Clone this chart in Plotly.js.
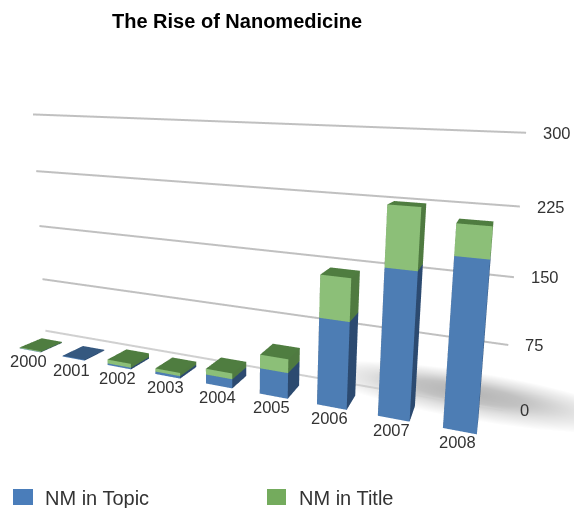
<!DOCTYPE html>
<html><head><meta charset="utf-8"><script src="https://cdn.plot.ly/plotly-3.0.1.min.js"></script>
<style>html,body{margin:0;padding:0;background:#fff}#c{width:574px;height:508px}</style></head><body><div id="c"></div>
<script>
const years=['2000','2001','2002','2003','2004','2005','2006','2007','2008'];
const topic=[0.5,1,2,3,11,30,98,160,179];
const title=[1,0,5,4,7,16,47,64,32];
const ticks=[0,75,150,225,300];
const seriesNames=['NM in Topic','NM in Title'];
const gridY=0.25, front=0.037, depth=0.12, halfW=0.248, gridL=-0.553, gridR=8.613, lean=-0.13/300;
const FONT='Liberation Sans, Arial, sans-serif';
function box(i,z0,z1,c){
  const x0=i-halfW,x1=i+halfW,y0=front,y1=front+depth,a=lean*z0,b=lean*z1;
  const fc=[c.side,c.side,c.top,c.top,c.front,c.front,c.side,c.side,c.side,c.side,c.side,c.side];
  return {type:'mesh3d',x:[x0+a,x1+a,x1+a,x0+a,x0+b,x1+b,x1+b,x0+b],y:[y0,y0,y1,y1,y0,y0,y1,y1],z:[z0,z0,z0,z0,z1,z1,z1,z1],
    i:[0,0,4,4,0,0,1,1,2,2,3,3],j:[1,2,5,6,1,5,2,6,3,7,0,4],k:[2,3,6,7,5,4,6,5,7,6,4,7],facecolor:fc,flatshading:true,
    lighting:{ambient:1,diffuse:0,specular:0,fresnel:0,roughness:1},showscale:false,hoverinfo:'skip'};
}
const blue={front:'#4d7db4',side:'#2c4a70',top:'#35587f'};
const green={front:'#8cbf78',side:'#4f7a40',top:'#4f7d40'};
function shadow(){
  const cx=8.0,cy=0.36,rx=2.7,ry=0.22,rings=[[0,'#b4b4b4'],[0.35,'#c2c2c2'],[0.65,'#e2e2e2'],[1,'#ffffff']],n=28;
  const x=[],y=[],z=[],vc=[],I=[],J=[],K=[];
  rings.forEach(([r,col])=>{for(let s=0;s<n;s++){const t=2*Math.PI*s/n;x.push(cx+rx*r*Math.cos(t));y.push(cy+ry*r*Math.sin(t));z.push(-2);vc.push(col);}});
  for(let r=0;r<rings.length-1;r++)for(let s=0;s<n;s++){const a=r*n+s,b=r*n+(s+1)%n,c=(r+1)*n+s,d=(r+1)*n+(s+1)%n;I.push(a,b);J.push(b,d);K.push(c,c);}
  return {type:'mesh3d',x,y,z,i:I,j:J,k:K,vertexcolor:vc,lighting:{ambient:1,diffuse:0,specular:0,fresnel:0},showscale:false,hoverinfo:'skip'};
}
const data=[shadow()];
ticks.forEach((t,n)=>data.push({type:'scatter3d',mode:'lines',x:[gridL+lean*t,gridR+lean*t],y:[gridY,gridY],z:[t,t],line:{color:n===0?'#d0d0d0':'#c0c0c0',width:4},hoverinfo:'skip',showlegend:false}));
years.forEach((yr,i)=>{
  data.push(box(i,0,topic[i],blue));
  if(title[i]>0)data.push(box(i,topic[i],topic[i]+title[i],green));
});
const sceneAnn=[];
years.forEach((yr,i)=>sceneAnn.push({x:i,y:front,z:0,text:yr,showarrow:false,yshift:-11,xshift:-2,font:{family:FONT,size:16.5,color:'#333'}}));
ticks.forEach(t=>sceneAnn.push({x:gridR+lean*t,y:gridY,z:t,text:String(t),showarrow:false,xanchor:'left',xshift:15,font:{family:FONT,size:16.5,color:'#333'}}));
const layout={width:574,height:508,margin:{l:0,r:0,t:0,b:0},paper_bgcolor:'#fff',showlegend:false,
 scene:{domain:{x:[0,1],y:[0,1]},bgcolor:'rgba(0,0,0,0)',aspectmode:'manual',aspectratio:{x:2.619,y:2,z:0.9461},
  camera:{eye:{x:0.8301,y:-1.757,z:0.4042},center:{x:0.1976,y:0.0968,z:0.0266},up:{x:-0.102,y:0.1636,z:0.984},projection:{type:'perspective'}},
  xaxis:{visible:false,range:[-2.553,10.613]},yaxis:{visible:false,range:[-1,1]},zaxis:{visible:false,range:[-10,310]},
  annotations:sceneAnn},
 shapes:[
  {type:'rect',xref:'paper',yref:'paper',x0:13/574,x1:33/574,y0:1-505/508,y1:1-489/508,fillcolor:'#4a7dba',line:{width:0}},
  {type:'rect',xref:'paper',yref:'paper',x0:267/574,x1:286/574,y0:1-505/508,y1:1-489/508,fillcolor:'#74ab5d',line:{width:0}}],
 annotations:[
  {xref:'paper',yref:'paper',x:237/574,y:1-21/508,yanchor:'middle',text:'<b>The Rise of Nanomedicine</b>',showarrow:false,font:{family:FONT,size:20,color:'#000'}},
  {xref:'paper',yref:'paper',x:42.5/574,y:1-498/508,yanchor:'middle',xanchor:'left',text:seriesNames[0],showarrow:false,font:{family:FONT,size:20,color:'#333'}},
  {xref:'paper',yref:'paper',x:296.5/574,y:1-498/508,yanchor:'middle',xanchor:'left',text:seriesNames[1],showarrow:false,font:{family:FONT,size:20,color:'#333'}}]};
Plotly.newPlot('c',data,layout,{displayModeBar:false});
</script></body></html>
